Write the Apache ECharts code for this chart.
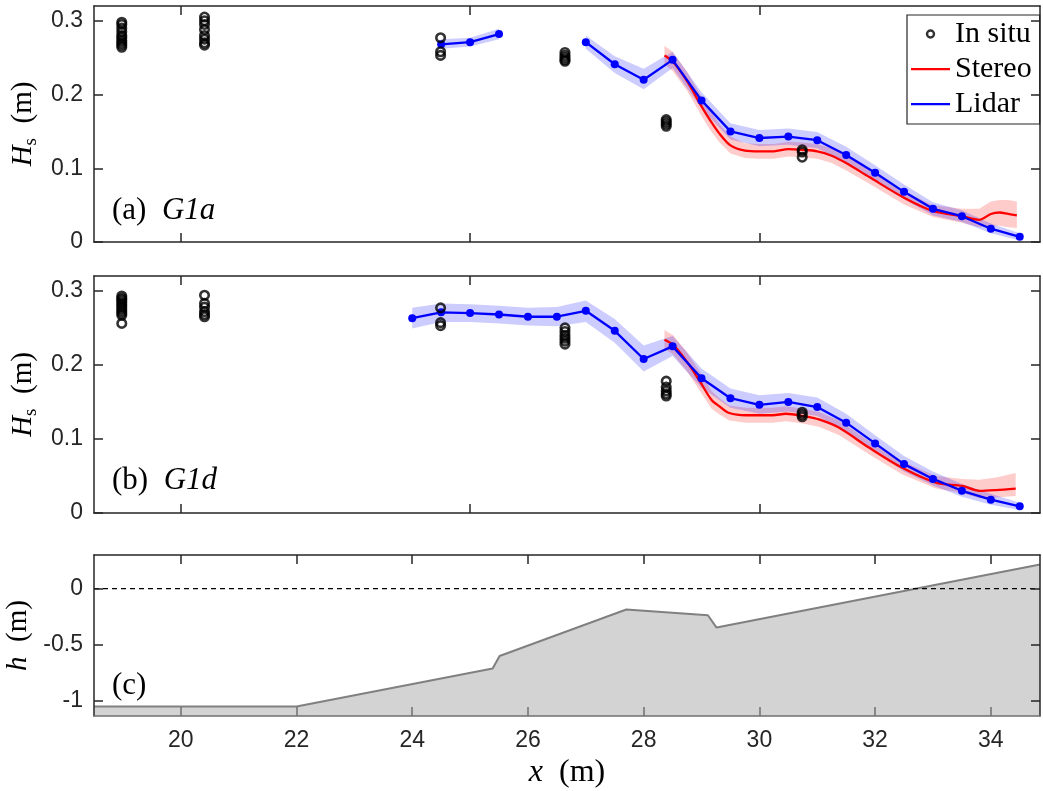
<!DOCTYPE html>
<html><head><meta charset="utf-8">
<script src="https://cdn.jsdelivr.net/npm/echarts@6/dist/echarts.min.js"></script>
<style>html,body{margin:0;padding:0;background:#fff}#c{width:1043px;height:791px}</style>
</head><body><div id="c"></div>
<script>
// ---------------- data ----------------
const insituX = [18.98, 20.41, 24.49, 26.64, 28.39, 30.74];
const insituA = [
  [0.298, 0.295, 0.290, 0.285, 0.280, 0.277, 0.273, 0.270, 0.267, 0.264],
  [0.305, 0.300, 0.295, 0.288, 0.280, 0.275, 0.270, 0.267],
  [0.277, 0.258, 0.253],
  [0.257, 0.253, 0.250, 0.247, 0.245],
  [0.166, 0.163, 0.160, 0.157],
  [0.125, 0.122, 0.115]
];
const insituB = [
  [0.293, 0.290, 0.288, 0.285, 0.282, 0.279, 0.276, 0.273, 0.270, 0.267, 0.256],
  [0.294, 0.283, 0.278, 0.272, 0.268, 0.265],
  [0.277, 0.257, 0.253],
  [0.250, 0.245, 0.240, 0.236, 0.232, 0.228],
  [0.178, 0.170, 0.165, 0.161, 0.158],
  [0.136, 0.133, 0.130]
];

// Lidar, panel (a): two segments
const lidarA1X = [24.5, 25.0, 25.5];
const lidarA1 = [0.268, 0.271, 0.282];
const lidarA1Lo = [0.262, 0.265, 0.275];
const lidarA1Up = [0.275, 0.277, 0.289];
const lidarA2X = [27.0, 27.5, 28.0, 28.5, 29.0, 29.5, 30.0, 30.5, 31.0, 31.5, 32.0, 32.5, 33.0, 33.5, 34.0, 34.5];
const lidarA2 = [0.271, 0.241, 0.220, 0.247, 0.192, 0.150, 0.141, 0.143, 0.138, 0.118, 0.094, 0.068, 0.045, 0.035, 0.018, 0.007];
const lidarA2Lo = [0.262, 0.229, 0.207, 0.236, 0.181, 0.139, 0.130, 0.132, 0.127, 0.108, 0.084, 0.058, 0.036, 0.027, 0.012, 0.002];
const lidarA2Up = [0.280, 0.252, 0.235, 0.258, 0.203, 0.161, 0.152, 0.154, 0.149, 0.129, 0.104, 0.078, 0.054, 0.043, 0.025, 0.012];

// Stereo, panel (a)
const stereoAX = [28.36, 28.5, 28.75, 29.0, 29.15, 29.3, 29.5, 29.75, 30.0, 30.25, 30.5, 30.75, 31.0, 31.25, 31.5, 31.9, 32.5, 33.0, 33.5, 33.8, 34.0, 34.15, 34.3, 34.45];
const stereoA = [0.253, 0.245, 0.218, 0.184, 0.165, 0.148, 0.131, 0.124, 0.123, 0.123, 0.126, 0.125, 0.123, 0.117, 0.107, 0.088, 0.060, 0.042, 0.035, 0.030, 0.038, 0.040, 0.038, 0.036];
const stereoALo = [0.241, 0.232, 0.205, 0.171, 0.152, 0.136, 0.120, 0.114, 0.113, 0.113, 0.116, 0.115, 0.113, 0.107, 0.097, 0.079, 0.051, 0.034, 0.026, 0.020, 0.022, 0.022, 0.020, 0.019];
const stereoAUp = [0.266, 0.258, 0.231, 0.197, 0.178, 0.161, 0.143, 0.134, 0.133, 0.133, 0.136, 0.135, 0.133, 0.127, 0.117, 0.097, 0.069, 0.050, 0.045, 0.045, 0.055, 0.057, 0.057, 0.055];

// Lidar, panel (b)
const lidarBX = [24.0, 24.5, 25.0, 25.5, 26.0, 26.5, 27.0, 27.5, 28.0, 28.5, 29.0, 29.5, 30.0, 30.5, 31.0, 31.5, 32.0, 32.5, 33.0, 33.5, 34.0, 34.5];
const lidarB = [0.263, 0.271, 0.270, 0.268, 0.265, 0.265, 0.273, 0.246, 0.208, 0.225, 0.182, 0.155, 0.146, 0.150, 0.143, 0.122, 0.094, 0.066, 0.046, 0.030, 0.018, 0.009];
const lidarBLo = [0.249, 0.258, 0.258, 0.256, 0.253, 0.252, 0.258, 0.230, 0.191, 0.212, 0.169, 0.142, 0.134, 0.137, 0.131, 0.110, 0.083, 0.056, 0.037, 0.022, 0.011, 0.004];
const lidarBUp = [0.277, 0.283, 0.282, 0.280, 0.277, 0.278, 0.287, 0.262, 0.226, 0.239, 0.195, 0.168, 0.159, 0.162, 0.156, 0.134, 0.105, 0.077, 0.056, 0.039, 0.026, 0.014];

// Stereo, panel (b)
const stereoBX = [28.36, 28.51, 28.74, 28.97, 29.17, 29.31, 29.48, 29.77, 30.23, 30.46, 30.75, 31.04, 31.38, 31.9, 32.47, 33.05, 33.51, 33.8, 34.09, 34.43];
const stereoB = [0.234, 0.227, 0.205, 0.178, 0.153, 0.144, 0.135, 0.132, 0.132, 0.134, 0.131, 0.126, 0.115, 0.088, 0.061, 0.041, 0.0365, 0.030, 0.031, 0.033];
const stereoBLo = [0.222, 0.214, 0.192, 0.165, 0.141, 0.133, 0.125, 0.122, 0.122, 0.124, 0.121, 0.116, 0.105, 0.079, 0.052, 0.033, 0.027, 0.020, 0.021, 0.023];
const stereoBUp = [0.247, 0.240, 0.218, 0.191, 0.165, 0.155, 0.145, 0.142, 0.142, 0.144, 0.141, 0.136, 0.125, 0.097, 0.070, 0.050, 0.046, 0.045, 0.048, 0.054];

// Bathymetry, panel (c)
const bathyX = [18.5, 22.0, 25.39, 25.51, 27.70, 29.11, 29.26, 34.85];
const bathyH = [-1.055, -1.055, -0.716, -0.603, -0.188, -0.239, -0.349, 0.215];
const swlX = [18.5, 34.85];
const swlH = [0, 0];

// axes / ticks
const X_MIN = 18.5, X_MAX = 34.85;
const xTicksTop = [20, 25, 30];
const xTicksBottom = [20, 22, 24, 26, 28, 30, 32, 34];
const hsTicks = [0, 0.1, 0.2, 0.3];
const hTicks = [-1, -0.5, 0];

// ---------------- helpers ----------------
const AX = '#262626';
const SERIF = 'Liberation Serif';
const SANS = 'Liberation Sans';
const pts = (xs, ys) => xs.map((x, i) => [x, ys[i]]);
const insituPts = groups => {
  const out = [];
  groups.forEach((g, i) => g.forEach(v => out.push([insituX[i], v])));
  return out;
};

function mkX(gi, pos, ticks, labels, lineColor, name) {
  const c = lineColor || AX;
  const ax = {
    type: 'value', gridIndex: gi, position: pos, min: X_MIN, max: X_MAX, z: 5,
    axisLine: { show: true, onZero: false, lineStyle: { color: c, width: 1.5 } },
    axisTick: { show: true, inside: true, length: 9, customValues: ticks, lineStyle: { color: c, width: 1.5 } },
    axisLabel: labels ? { show: true, customValues: ticks, margin: 13, fontSize: 23, fontFamily: SANS, color: AX } : { show: false },
    splitLine: { show: false }
  };
  if (name) {
    ax.name = name;
    ax.nameLocation = 'middle';
    ax.nameGap = 41;
    ax.nameTextStyle = { fontFamily: SERIF, fontSize: 32, color: '#000',
      rich: { i: { fontFamily: SERIF, fontStyle: 'italic', fontSize: 32, color: '#000' } } };
  }
  return ax;
}
function mkY(gi, pos, min, max, ticks, labels, name, nameGap) {
  const ax = {
    type: 'value', gridIndex: gi, position: pos, min: min, max: max, z: 5,
    axisLine: { show: true, onZero: false, lineStyle: { color: AX, width: 1.5 } },
    axisTick: { show: true, inside: true, length: 9, customValues: ticks, lineStyle: { color: AX, width: 1.5 } },
    axisLabel: labels ? { show: true, customValues: ticks, margin: 11, fontSize: 23, fontFamily: SANS, color: AX } : { show: false },
    splitLine: { show: false }
  };
  if (name) {
    ax.name = name;
    ax.nameLocation = 'middle';
    ax.nameGap = nameGap;
    ax.nameTextStyle = { fontFamily: SERIF, fontSize: 29, color: '#000',
      rich: {
        i: { fontFamily: SERIF, fontStyle: 'italic', fontSize: 29, color: '#000' },
        s: { fontFamily: SERIF, fontSize: 19, color: '#000', verticalAlign: 'bottom', padding: [15, 0, 0, 0] },
        n: { fontFamily: SERIF, fontSize: 29, color: '#000' }
      } };
  }
  return ax;
}

// uncertainty band as a polygon through the axis scales
function band(xi, yi, xs, lo, up, color) {
  const data = xs.map((x, i) => [x, lo[i], up[i]]);
  return {
    type: 'custom', xAxisIndex: xi, yAxisIndex: yi, data: data, silent: true, z: 1,
    encode: { x: 0, y: [1, 2] },
    renderItem: function (params, api) {
      if (params.dataIndex !== 0) return null;
      const upper = data.map(d => api.coord([d[0], d[2]]));
      const lower = data.map(d => api.coord([d[0], d[1]])).reverse();
      return { type: 'polygon', shape: { points: upper.concat(lower) }, style: { fill: color } };
    }
  };
}
function lidarLine(xi, yi, xs, ys) {
  return { type: 'line', name: 'Lidar', xAxisIndex: xi, yAxisIndex: yi, data: pts(xs, ys),
    symbol: 'circle', symbolSize: 8, showSymbol: true, itemStyle: { color: '#0000ff' },
    lineStyle: { color: '#0000ff', width: 2.3 }, z: 3 };
}
function stereoLine(xi, yi, xs, ys) {
  return { type: 'line', name: 'Stereo', xAxisIndex: xi, yAxisIndex: yi, data: pts(xs, ys),
    symbol: 'none', smooth: 0.3, itemStyle: { color: '#ff0000' }, lineStyle: { color: '#ff0000', width: 2.3 }, z: 2 };
}
function insitu(xi, yi, groups) {
  return { type: 'scatter', name: 'In situ', xAxisIndex: xi, yAxisIndex: yi, data: insituPts(groups),
    symbol: 'circle', symbolSize: 8.5, itemStyle: { color: 'rgba(0,0,0,0)', borderColor: '#000', borderWidth: 2.6 }, z: 4 };
}

const BLUE_BAND = 'rgba(0,0,255,0.2)';
const RED_BAND = 'rgba(255,0,0,0.2)';

const lineIcon = 'path://M0,0h0.01v0.01h-0.01z M0,9h39v2.2h-39z M38.99,19.99h0.01v0.01h-0.01z';
const ringIcon = 'path://M0,0h0.01v0.01h-0.01z M14.8,10 A4.7,4.7 0 1 1 24.2,10 A4.7,4.7 0 1 1 14.8,10 Z M17.2,10 A2.3,2.3 0 1 0 21.8,10 A2.3,2.3 0 1 0 17.2,10 Z M38.99,19.99h0.01v0.01h-0.01z';

const titleRich = {
  n: { fontFamily: SERIF, fontSize: 31, fontWeight: 'normal', color: '#000' },
  i: { fontFamily: SERIF, fontStyle: 'italic', fontWeight: 'normal', fontSize: 31, color: '#000' }
};
const titleStyle = { fontWeight: 'normal', fontFamily: SERIF, fontSize: 31, color: '#000', rich: titleRich };

const option = {
  animation: false,
  backgroundColor: '#fff',
  grid: [
    { left: 94, top: 6, width: 946, height: 236, outerBoundsMode: 'none', containLabel: false },
    { left: 94, top: 276, width: 946, height: 237, outerBoundsMode: 'none', containLabel: false },
    { left: 94, top: 555, width: 946, height: 161, outerBoundsMode: 'none', containLabel: false }
  ],
  xAxis: [
    mkX(0, 'bottom', xTicksTop, false),
    mkX(0, 'top', xTicksTop, false),
    mkX(1, 'bottom', xTicksTop, false),
    mkX(1, 'top', xTicksTop, false),
    mkX(2, 'bottom', xTicksBottom, true, '#707070', '{i|x}  (m)'),
    mkX(2, 'top', xTicksBottom, false)
  ],
  yAxis: [
    mkY(0, 'left', 0, 0.32, hsTicks, true, '{i|H}{s|s}  (m)', 49),
    mkY(0, 'right', 0, 0.32, hsTicks, false),
    mkY(1, 'left', 0, 0.32, hsTicks, true, '{i|H}{s|s}  (m)', 49),
    mkY(1, 'right', 0, 0.32, hsTicks, false),
    mkY(2, 'left', -1.14, 0.3, hTicks, true, '{i|h}  (m)', 58),
    mkY(2, 'right', -1.14, 0.3, hTicks, false)
  ],
  title: [
    { left: 112, top: 195, padding: 0, text: '{n|(a)}  {i|G1a}', textStyle: titleStyle },
    { left: 112, top: 465, padding: 0, text: '{n|(b)}  {i|G1d}', textStyle: titleStyle },
    { left: 112, top: 670, padding: 0, text: '{n|(c)}', textStyle: titleStyle }
  ],
  legend: {
    left: 907, top: 15, orient: 'vertical', selectedMode: false,
    backgroundColor: '#fff', borderColor: AX, borderWidth: 1.2,
    padding: [4, 8, 5, 4], itemGap: 5, itemWidth: 39, itemHeight: 20,
    textStyle: { fontFamily: SERIF, fontSize: 30, color: '#000', lineHeight: 30 },
    data: [
      { name: 'In situ', icon: ringIcon, itemStyle: { color: '#000', borderWidth: 0 } },
      { name: 'Stereo', icon: lineIcon, itemStyle: { color: '#ff0000', borderWidth: 0 } },
      { name: 'Lidar', icon: lineIcon, itemStyle: { color: '#0000ff', borderWidth: 0 } }
    ]
  },
  series: [
    // panel (a)
    band(0, 0, stereoAX, stereoALo, stereoAUp, RED_BAND),
    band(0, 0, lidarA1X, lidarA1Lo, lidarA1Up, BLUE_BAND),
    band(0, 0, lidarA2X, lidarA2Lo, lidarA2Up, BLUE_BAND),
    stereoLine(0, 0, stereoAX, stereoA),
    lidarLine(0, 0, lidarA1X, lidarA1),
    lidarLine(0, 0, lidarA2X, lidarA2),
    insitu(0, 0, insituA),
    // panel (b)
    band(2, 2, stereoBX, stereoBLo, stereoBUp, RED_BAND),
    band(2, 2, lidarBX, lidarBLo, lidarBUp, BLUE_BAND),
    stereoLine(2, 2, stereoBX, stereoB),
    lidarLine(2, 2, lidarBX, lidarB),
    insitu(2, 2, insituB),
    // panel (c)
    { type: 'line', name: 'bathy', xAxisIndex: 4, yAxisIndex: 4, data: pts(bathyX, bathyH), symbol: 'none',
      lineStyle: { color: '#808080', width: 2 }, areaStyle: { color: '#d3d3d3', opacity: 1, origin: 'start' }, z: 2 },
    { type: 'line', name: 'swl', xAxisIndex: 4, yAxisIndex: 4, data: pts(swlX, swlH), symbol: 'none',
      lineStyle: { color: '#000', width: 1.2, type: [5, 4] }, z: 3 }
  ]
};

const chart = echarts.init(document.getElementById('c'), null, { renderer: 'canvas' });
chart.setOption(option);
</script></body></html>
